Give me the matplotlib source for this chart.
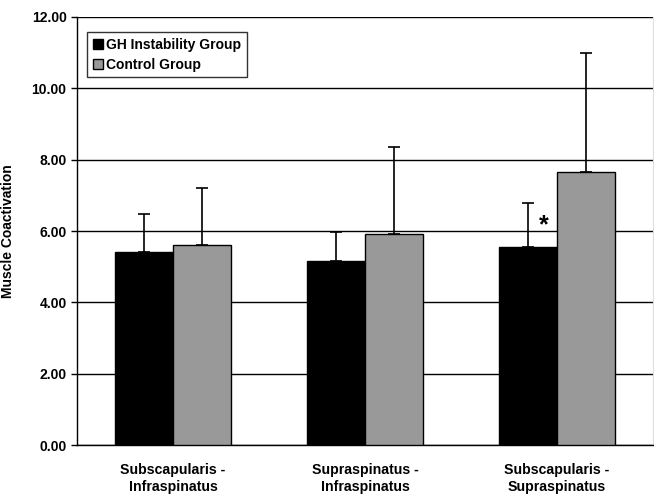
import matplotlib
matplotlib.use('Agg')
import matplotlib.pyplot as plt
import numpy as np

plt.rcParams['font.family'] = ['Liberation Sans', 'DejaVu Sans']
plt.rcParams['font.weight'] = 'bold'

categories = ['Subscapularis -\nInfraspinatus', 'Supraspinatus -\nInfraspinatus', 'Subscapularis -\nSupraspinatus']
gh_means = [5.40, 5.16, 5.56]
gh_sd = [1.08, 0.80, 1.22]
ctrl_means = [5.60, 5.92, 7.66]
ctrl_sd = [1.60, 2.43, 3.34]
yticks = [0, 2, 4, 6, 8, 10, 12]

fig = plt.figure(figsize=(6.54, 4.94), dpi=100)
ax = fig.add_axes([77 / 654, 1 - 445 / 494, 576 / 654, 428 / 494])

x = np.arange(len(categories))
w = 0.3
ax.bar(x - w / 2, gh_means, w, color='black', edgecolor='black', linewidth=1, zorder=3,
       label='GH Instability Group')
ax.bar(x + w / 2, ctrl_means, w, color='#999999', edgecolor='black', linewidth=1, zorder=3,
       label='Control Group')
ax.errorbar(x - w / 2, gh_means, yerr=[np.zeros(3), gh_sd], fmt='none', ecolor='black',
            elinewidth=1.2, capsize=4, capthick=1.2, zorder=2)
ax.errorbar(x + w / 2, ctrl_means, yerr=[np.zeros(3), ctrl_sd], fmt='none', ecolor='black',
            elinewidth=1.2, capsize=4, capthick=1.2, zorder=2)

ax.text(2 - 0.07, 6.15, '*', ha='center', va='center', fontsize=18, fontweight='bold')

ax.set_xlim(-0.5, 2.5)
ax.set_ylim(0, 12)
ax.set_yticks(yticks)
ax.set_yticklabels(['%.2f' % t for t in yticks], fontsize=10, fontweight='bold')
ax.yaxis.grid(True, color='black', linewidth=1, zorder=0)
ax.set_axisbelow(True)
ax.set_xticks(x)
ax.set_xticklabels(categories, fontsize=10.2, fontweight='bold', linespacing=1.3)
ax.tick_params(axis='x', length=0, pad=13)
ax.tick_params(axis='y', length=4, width=1, direction='out')
ax.spines['top'].set_visible(False)
ax.spines['right'].set_color('#dddddd')
for s in ['left', 'bottom']:
    ax.spines[s].set_linewidth(1)
ax.set_ylabel('Muscle Coactivation', fontsize=10, fontweight='bold')
ax.yaxis.set_label_coords(-(77 - 15) / 576, 0.5)

leg = ax.legend(loc='upper left', bbox_to_anchor=(10 / 576, 1 - 15 / 428), fontsize=10,
                frameon=True, fancybox=False, edgecolor='black', handlelength=0.75,
                handleheight=0.75, handletextpad=0.25, borderpad=0.4, labelspacing=0.45,
                borderaxespad=0)
leg.get_frame().set_linewidth(1)
for t in leg.get_texts():
    t.set_fontweight('bold')

fig.savefig('out.png', dpi=100)
